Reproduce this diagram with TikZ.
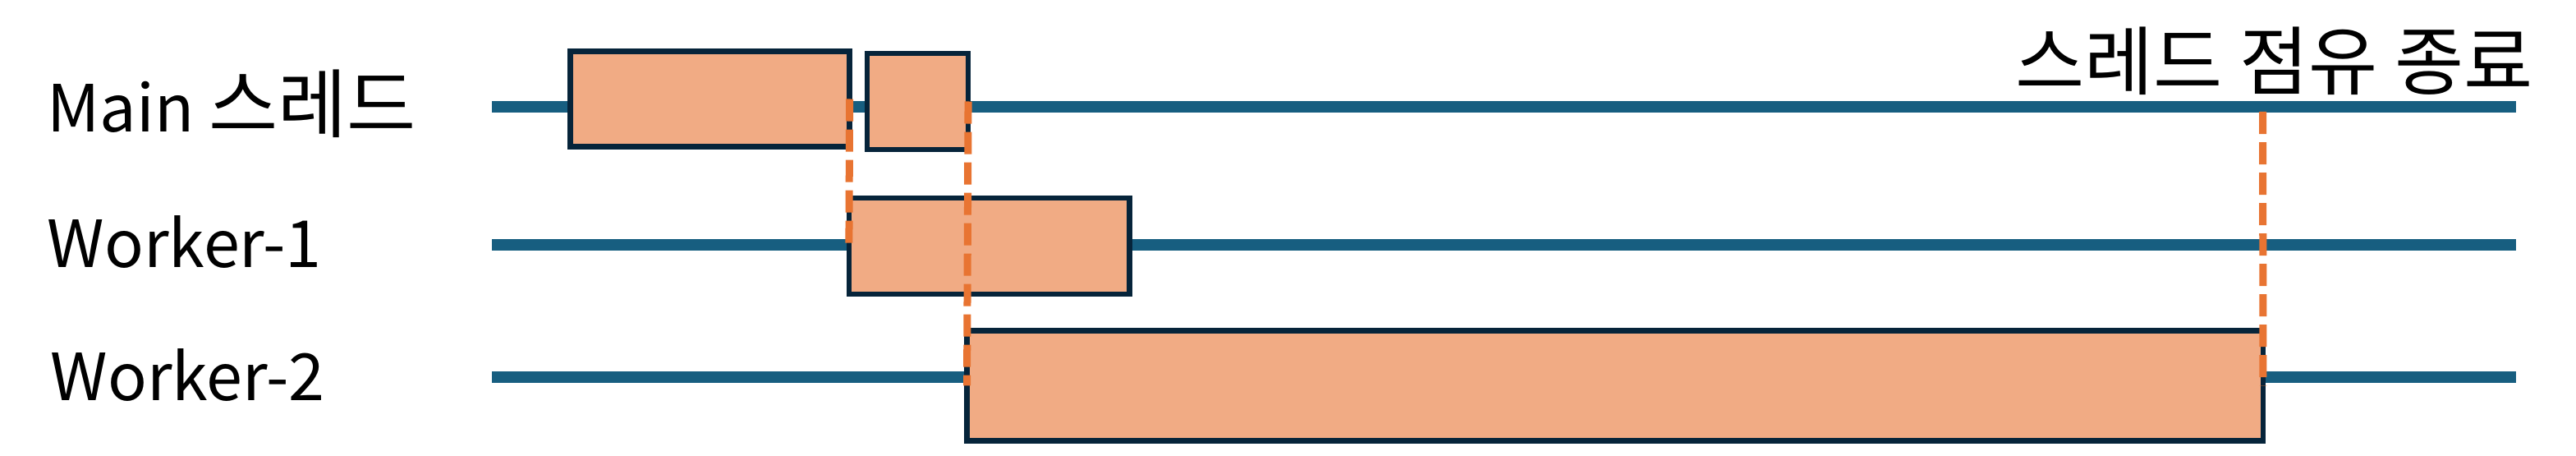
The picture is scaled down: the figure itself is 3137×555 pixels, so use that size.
\documentclass[tikz,border=0pt]{standalone}
\usepackage{fontspec}
\setmainfont{Noto Sans CJK KR}
\usepackage{xcolor}
\usetikzlibrary{positioning}

\definecolor{lanecol}{HTML}{175E80}
\definecolor{taskfill}{HTML}{F1AB84}
\definecolor{taskdraw}{HTML}{06243A}
\definecolor{synccol}{HTML}{E87432}
\newcommand{\kr}[1]{{\fontsize{26}{30}\selectfont #1}}

\begin{document}
\begin{tikzpicture}[x=0.01cm, y=-0.01cm,
    lane/.style={line width=0.14cm, lanecol},
    task/.style={draw=taskdraw, fill=taskfill, line width=0.068cm, inner sep=0, outer sep=0},
    sync/.style={line width=0.09cm, synccol, dash pattern=on 0.27cm off 0.10cm},
    lbl/.style={inner sep=0, font=\fontsize{22.5}{27}\selectfont}]
    \useasboundingbox (0,0) rectangle (3137,555);

    \node[lbl, anchor=base west] (lmain) at (57,161) {Main \kr{스레드}};
    \node[lbl, anchor=base west] (lw1) at (57,326) {Worker-1};
    \node[lbl, anchor=base west] (lw2) at (61,487) {Worker-2};
    \node[lbl, anchor=east] (lend) at (3085,74) {\kr{스레드 점유 종료}};

    \draw[lane] (599,130) coordinate (main0) -- (3064,130) coordinate (main1);
    \draw[lane] (599,298) coordinate (w10) -- (3064,298) coordinate (w11);
    \draw[lane] (599,459) coordinate (w20) -- (3064,459) coordinate (w21);

    \node[task, minimum width=3.40cm, minimum height=1.16cm] (m1) at (864.5,120.5) {};
    \node[task, minimum width=1.23cm, minimum height=1.17cm] (m2) at (1117.5,123.5) {};
    \node[task, minimum width=3.41cm, minimum height=1.17cm] (w1) at (1204.5,299.5) {};
    \node[task, minimum width=15.775cm, minimum height=1.34cm] (w2) at (1966.75,469.3) {};

    \coordinate (endm) at (2755.5,136);
    \draw[sync] (m1.east) -- (w1.west);
    \draw[sync] (m2.east) -- (w2.west);
    \draw[sync] (endm) -- (w2.east);
\end{tikzpicture}
\end{document}
